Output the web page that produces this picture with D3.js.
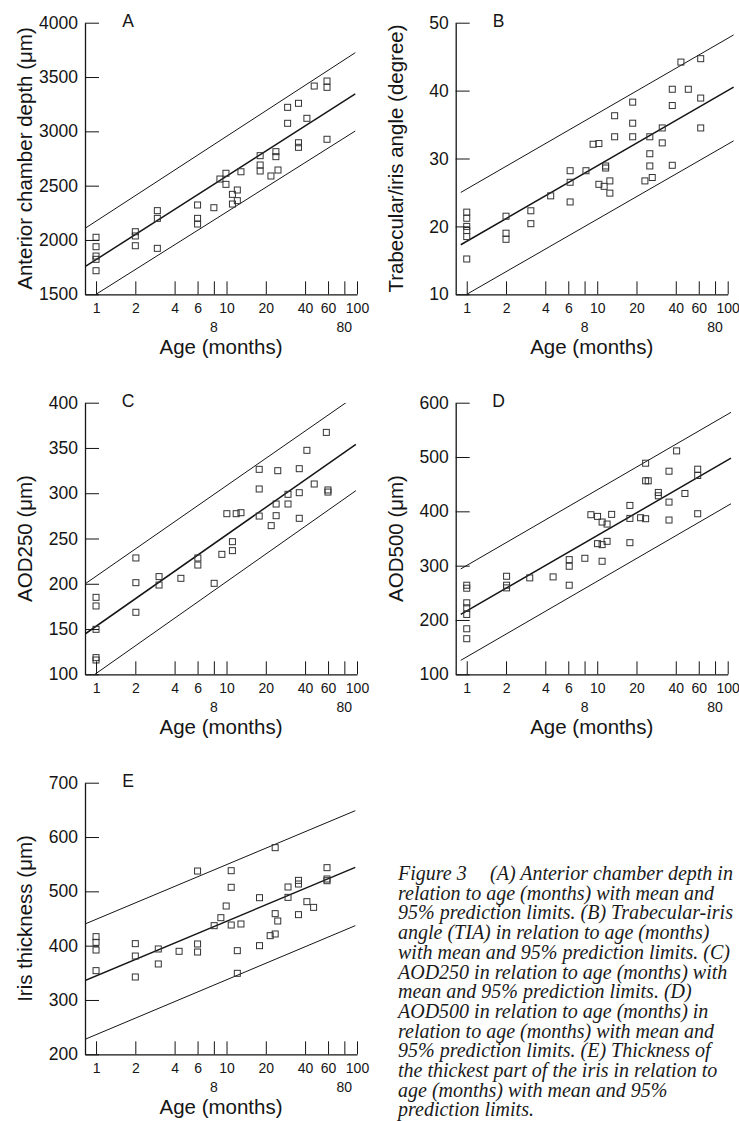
<!DOCTYPE html>
<html>
<head>
<meta charset="utf-8">
<script src="https://cdn.jsdelivr.net/npm/d3@7"></script>
<style>
body { margin: 0; background: #fff; }
svg { display: block; }
</style>
</head>
<body>
<div id="chart"></div>
<script>
// x axis (age, log scale)
var ageTicks = [1, 2, 4, 6, 8, 10, 20, 40, 60, 80, 100];
var ageLabelsTop = [1, 2, 4, 6, 10, 20, 40, 60, 100];
var ageLabelsLow = [8, 80];

// A - anterior chamber depth
var ticksA = [1500, 2000, 2500, 3000, 3500, 4000];
var pointsA = [[1,2025],[1,1938],[1,1852],[1,1822],[1,1717],
  [2,2076],[2,2037],[2,1947],[2.95,2270],[2.95,2199],[2.95,1923],
  [6,2322],[6,2199],[6,2147],[8,2297],[8.9,2561],[9.9,2614],[9.9,2512],
  [11.1,2420],[11.1,2331],[12.1,2460],[12.1,2362],[12.9,2628],
  [18.1,2776],[18.1,2690],[18.1,2635],[21.9,2589],[23.9,2813],[23.9,2767],[24.8,2644],
  [29.4,3221],[29.4,3074],[35.6,3258],[35.6,2895],[35.6,2853],[41.3,3120],[47,3417],
  [58.9,3463],[58.9,3405],[58.9,2927]];
var upperA = [[0.823,2107],[97,3724]];
var meanA = [[0.823,1754],[97,3344]];
var lowerA = [[1,1500],[97,3003]];

// B - trabecular/iris angle
var ticksB = [10, 20, 30, 40, 50];
var pointsB = [[1,22.1],[1,21.2],[1,20.0],[1,19.4],[1,18.5],[1,15.2],
  [2,21.5],[2,19.0],[2,18.1],[3.1,22.3],[3.1,20.4],[4.4,24.5],
  [6.2,28.2],[6.2,26.5],[6.2,23.6],[8.2,28.2],[9.3,32.1],[10.3,32.2],[10.3,26.2],
  [11.3,25.9],[11.6,28.9],[11.6,28.6],[12.5,26.7],[12.5,24.9],[13.6,36.3],[13.6,33.2],
  [18.7,38.3],[18.7,35.2],[18.7,33.2],[23.2,26.7],[25.3,33.2],[25.3,30.7],[25.3,28.9],[26.4,27.2],
  [31.5,34.5],[31.5,32.3],[37.6,40.2],[37.6,37.8],[37.6,29.0],[43.8,44.2],[49.9,40.2],
  [62.1,44.7],[62.1,38.9],[62.1,34.5]];
var upperB = [[0.9,25.0],[111,48.2]];
var meanB = [[0.9,17.3],[111,40.5]];
var lowerB = [[1,10],[111,32.6]];

// C - AOD250
var ticksC = [100, 150, 200, 250, 300, 350, 400];
var pointsC = [[1,185],[1,175.5],[1,149.7],[1,118.4],[1,115.8],
  [2.02,228.5],[2.02,201.2],[2.02,168.5],[3.04,207.9],[3.04,198.6],[4.47,206],
  [6.03,228.5],[6.03,220.7],[8.04,200.5],[9.21,232.5],[10.06,277.4],[11.1,246.5],[11.1,236.6],
  [11.86,277.4],[12.9,278.5],[17.8,326.4],[17.8,304.7],[17.8,274.8],[22,264.2],[24,288.1],
  [24,275.2],[24.7,324.9],[29.6,298.8],[29.6,288.1],[36.1,327.1],[36.1,300.6],[36.1,272.3],
  [41.3,347.4],[47,310.2],[58.2,367.2],[59.9,303.6],[59.9,301.3]];
var upperC = [[0.823,199.8],[82.3,400]];
var meanC = [[0.823,144.5],[98,354]];
var lowerC = [[0.98,100],[98,302.8]];

// D - AOD500
var ticksD = [100, 200, 300, 400, 500, 600];
var pointsD = [[1,264],[1,258.5],[1,231.6],[1,222.4],[1,210.2],[1,183.8],[1,165.5],
  [2.02,280.5],[2.02,264],[2.02,259.1],[3.04,277.5],[4.59,279.3],
  [6.1,311.1],[6.1,298.9],[6.1,264],[8.04,313.6],[8.94,393.8],[10.06,390.7],[10.06,340.5],
  [10.9,380.3],[10.9,338.7],[10.9,308.1],[11.9,376.6],[11.9,344.8],[12.9,394.4],
  [17.8,410.9],[17.8,387],[17.8,342.3],[21.5,388.2],[23.5,488.6],[23.5,456.2],[23.5,386.4],[24.6,456.2],
  [29.4,434.8],[29.4,428.6],[35.5,473.9],[35.5,417],[35.5,384],[40.6,511.3],[47,432.9],
  [58.9,477.6],[58.9,466],[58.9,395.6]];
var upperD = [[0.9,294],[106,582.3]];
var meanD = [[0.9,210.2],[106,497.8]];
var lowerD = [[0.9,125.7],[106,414]];

// E - iris thickness
var ticksE = [200, 300, 400, 500, 600, 700];
var pointsE = [[1,416.6],[1,406.1],[1,392],[1,354],
  [2,403.7],[2,380.9],[2,342.3],[3,393.9],[3,366.3],[4.33,389.6],
  [6,537.4],[6,403.1],[6,388.3],[8.04,436.8],[9.05,451.5],[9.94,473],
  [10.86,538],[10.86,507.4],[10.86,438],[12.1,390.8],[12.1,349.1],[12.9,439.9],
  [17.9,488.3],[17.9,400],[21.6,418.4],[23.6,580.4],[23.6,458.9],[23.6,421.5],[24.7,445.4],
  [29.6,508],[29.6,488.9],[35.6,520.2],[35.6,513.5],[35.6,457.1],[41.3,481],[46.5,470.5],
  [58.9,543.6],[58.9,522.7],[58.9,519.6]];
var upperE = [[0.823,439.9],[97,648.5]];
var meanE = [[0.823,335.6],[97,544.2]];
var lowerE = [[0.823,227.6],[97,436.8]];

var captionLines = [
  "relation to age (months) with mean and",
  "95% prediction limits. (B) Trabecular-iris",
  "angle (TIA) in relation to age (months)",
  "with mean and 95% prediction limits. (C)",
  "AOD250 in relation to age (months) with",
  "mean and 95% prediction limits. (D)",
  "AOD500 in relation to age (months) in",
  "relation to age (months) with mean and",
  "95% prediction limits. (E) Thickness of",
  "the thickest part of the iris in relation to",
  "age (months) with mean and 95%",
  "prediction limits."
];

var panels = [
  {id: "A", col: 0, row: 0, title: "Anterior chamber depth (\u03bcm)", ticks: ticksA, points: pointsA, lines: [upperA, meanA, lowerA]},
  {id: "B", col: 1, row: 0, title: "Trabecular/iris angle (degree)", ticks: ticksB, points: pointsB, lines: [upperB, meanB, lowerB]},
  {id: "C", col: 0, row: 1, title: "AOD250 (\u03bcm)", ticks: ticksC, points: pointsC, lines: [upperC, meanC, lowerC]},
  {id: "D", col: 1, row: 1, title: "AOD500 (\u03bcm)", ticks: ticksD, points: pointsD, lines: [upperD, meanD, lowerD]},
  {id: "E", col: 0, row: 2, title: "Iris thickness (\u03bcm)", ticks: ticksE, points: pointsE, lines: [upperE, meanE, lowerE]}
];

var width = 739, height = 1121;
var plotW = 272, plotH = 271.6;
var colX = [85, 455.7], rowY = [22.7, 402.7, 782.7];
var sans = "'Liberation Sans', Arial, Helvetica, sans-serif";
var ink = "#151515";

var svg = d3.select("#chart").append("svg")
    .attr("width", width)
    .attr("height", height);

var x = d3.scaleLog().domain([0.823, 100]).range([0, plotW]);

panels.forEach(function(p){
    var g = svg.append("g")
        .attr("transform", "translate(" + colX[p.col] + "," + rowY[p.row] + ")");
    var y = d3.scaleLinear()
        .domain(d3.extent(p.ticks))
        .range([plotH, 0]);

    g.append("clipPath").attr("id", "clip" + p.id)
        .append("rect")
        .attr("x", 0).attr("y", 0)
        .attr("width", plotW + 14).attr("height", plotH);

    // mean and 95% limits
    var line = d3.line()
        .x(function(d){ return x(d[0]); })
        .y(function(d){ return y(d[1]); });
    g.append("g").attr("clip-path", "url(#clip" + p.id + ")")
        .selectAll("path")
        .data(p.lines)
        .enter().append("path")
        .attr("d", line)
        .attr("fill", "none")
        .attr("stroke", ink)
        .attr("stroke-width", function(d, i){ return i == 1 ? 1.5 : 1; });

    // observations
    g.append("g").selectAll("rect")
        .data(p.points)
        .enter().append("rect")
        .attr("x", function(d){ return x(d[0]) - 3; })
        .attr("y", function(d){ return y(d[1]) - 3; })
        .attr("width", 6)
        .attr("height", 6)
        .attr("fill", "none")
        .attr("stroke", "#333")
        .attr("stroke-width", 1);

    // y axis, ticks point inwards
    var ya = g.append("g")
        .call(d3.axisLeft(y).tickValues(p.ticks).tickSize(-14).tickSizeOuter(0)
            .tickPadding(7).tickFormat(d3.format("d")))
        .attr("font-family", sans)
        .attr("font-size", 17.5)
        .attr("color", ink);
    ya.select(".domain").attr("stroke-width", 1.3);

    // x axis
    var xa = g.append("g")
        .attr("transform", "translate(0," + plotH + ")")
        .call(d3.axisBottom(x).tickValues(ageTicks).tickSize(-13).tickSizeOuter(0)
            .tickPadding(9)
            .tickFormat(function(d){ return ageLabelsTop.indexOf(d) >= 0 ? d : ""; }))
        .attr("font-family", sans)
        .attr("font-size", 14)
        .attr("color", ink);
    xa.select(".domain").attr("stroke-width", 1.3);

    xa.selectAll("text.low")
        .data(ageLabelsLow)
        .enter().append("text")
        .attr("class", "low")
        .attr("x", function(d){ return x(d); })
        .attr("y", 38)
        .attr("text-anchor", "middle")
        .attr("fill", ink)
        .text(function(d){ return d; });

    g.append("text")
        .attr("x", plotW / 2)
        .attr("y", plotH + 60)
        .attr("text-anchor", "middle")
        .attr("font-family", sans)
        .attr("font-size", 20.5)
        .attr("fill", ink)
        .text("Age (months)");

    g.append("text")
        .attr("transform", "translate(-53," + (plotH / 2) + ") rotate(-90)")
        .attr("text-anchor", "middle")
        .attr("font-family", sans)
        .attr("font-size", 20.5)
        .attr("fill", ink)
        .text(p.title);

    g.append("text")
        .attr("x", 43)
        .attr("y", 4.5)
        .attr("text-anchor", "middle")
        .attr("font-family", sans)
        .attr("font-size", 17.5)
        .attr("fill", ink)
        .text(p.id);
});

// caption, each line kept inside the page width
var capX = 398, capMaxW = width - capX - 2;
var cap = svg.append("g")
    .attr("font-family", "'Liberation Serif', 'Times New Roman', serif")
    .attr("font-style", "italic")
    .attr("font-size", 20)
    .attr("fill", "#1a1a1a");
cap.append("text").attr("x", capX).attr("y", 880).text("Figure 3");
cap.append("text").attr("x", 490).attr("y", 880).text("(A) Anterior chamber depth in");
cap.selectAll("text.line")
    .data(captionLines)
    .enter().append("text")
    .attr("class", "line")
    .attr("x", capX)
    .attr("y", function(d, i){ return 880 + (i + 1) * 19.7; })
    .text(function(d){ return d; })
    .each(function(){
        if (this.getComputedTextLength() > capMaxW)
            d3.select(this).attr("textLength", capMaxW).attr("lengthAdjust", "spacingAndGlyphs");
    });
cap.selectAll("text").filter(function(){ return this.getAttribute("x") == "490"; })
    .each(function(){
        if (490 + this.getComputedTextLength() > width - 2)
            d3.select(this).attr("textLength", width - 2 - 490).attr("lengthAdjust", "spacingAndGlyphs");
    });
</script>
</body>
</html>
